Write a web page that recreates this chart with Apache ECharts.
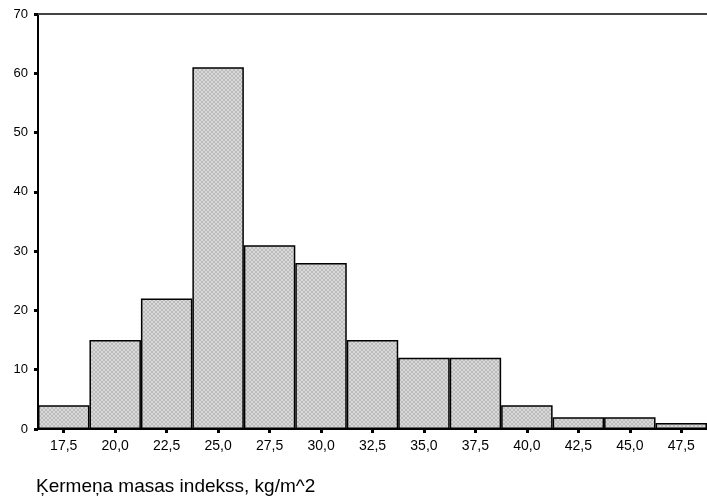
<!DOCTYPE html>
<html>
<head>
<meta charset="utf-8">
<script src="https://cdn.jsdelivr.net/npm/echarts@6/dist/echarts.min.js"></script>
<style>
  html, body { margin: 0; padding: 0; background: #fff; }
  #chart { width: 707px; height: 501px; }
</style>
</head>
<body>
<div id="chart"></div>
<script>
// BMI class midpoints and frequencies
const binLabels = ['17,5', '20,0', '22,5', '25,0', '27,5', '30,0', '32,5', '35,0', '37,5', '40,0', '42,5', '45,0', '47,5'];
const counts = [4, 15, 22, 61, 31, 28, 15, 12, 12, 4, 2, 2, 1];
const yTicks = [0, 10, 20, 30, 40, 50, 60, 70];
const axisTitle = 'Ķermeņa masas indekss, kg/m^2';

// fine grey cross-hatch used to fill the bars
function hatchPattern() {
  const c = document.createElement('canvas');
  c.width = 4; c.height = 4;
  const g = c.getContext('2d');
  g.fillStyle = '#d9d9d9';
  g.fillRect(0, 0, 4, 4);
  g.fillStyle = '#bcbcbc';
  for (let i = 0; i < 4; i++) {
    g.fillRect(i, i, 1, 1);
    g.fillRect(3 - i, i, 1, 1);
  }
  return c;
}

const chart = echarts.init(document.getElementById('chart'), null, { renderer: 'canvas' });
const font = 'Arial, "Liberation Sans", sans-serif';

chart.setOption({
  animation: false,
  textStyle: { fontFamily: font },
  title: {
    text: axisTitle,
    left: 31,
    top: 472,
    textStyle: { fontFamily: font, fontSize: 19, fontWeight: 'normal', color: '#000' }
  },
  grid: { left: 38, right: 0, top: 14, bottom: 72, containLabel: false },
  xAxis: [
    {
      type: 'category',
      data: binLabels,
      position: 'bottom',
      axisLine: { show: true, lineStyle: { color: '#000', width: 2 } },
      axisTick: { show: true, alignWithLabel: true, length: 4, lineStyle: { color: '#000', width: 3 } },
      axisLabel: { color: '#000', fontSize: 14, margin: 10, fontFamily: font }
    },
    {
      type: 'category',
      data: binLabels,
      position: 'top',
      axisLine: { show: true, lineStyle: { color: '#444', width: 2 } },
      axisTick: { show: false },
      axisLabel: { show: false }
    }
  ],
  yAxis: {
    type: 'value',
    min: yTicks[0],
    max: yTicks[yTicks.length - 1],
    interval: 10,
    axisLine: { show: true, lineStyle: { color: '#000', width: 2 } },
    axisTick: { show: true, length: 4, lineStyle: { color: '#000', width: 3 } },
    axisLabel: { color: '#000', fontSize: 13, margin: 10, fontFamily: font },
    splitLine: { show: false }
  },
  series: [{
    type: 'bar',
    data: counts,
    barCategoryGap: 0,
    itemStyle: {
      color: { image: hatchPattern(), repeat: 'repeat' },
      borderColor: '#000',
      borderWidth: 1.5
    }
  }]
});
</script>
</body>
</html>
